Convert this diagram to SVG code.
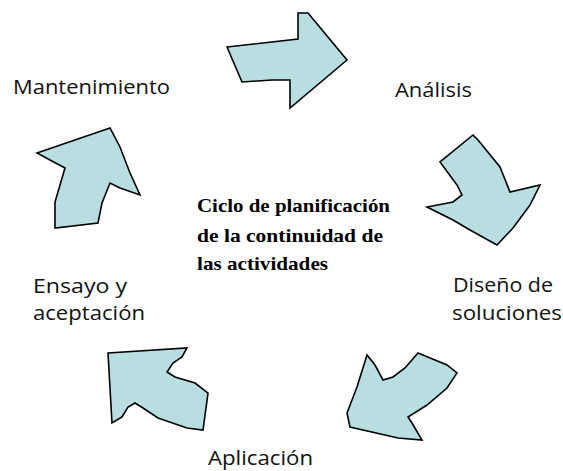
<svg xmlns="http://www.w3.org/2000/svg" width="563" height="471" viewBox="0 0 563 471">
<style>
.arrow{fill:#b9dee2;stroke:#000;stroke-width:1.6;stroke-linejoin:miter}
.lbl{font-family:"Open Sans","Liberation Sans",sans-serif;font-size:20px;fill:#111}
.ctr{font-family:"Liberation Serif","Times New Roman",serif;font-size:19px;font-weight:bold;fill:#000}
</style>
<rect width="563" height="471" fill="#fff"/>
<g id="connectors">
<polygon id="arrow-top" class="arrow" points="227,47 298,39 298,13 308,13 347,60 290,108 290,80 272,80 242,82"/>
<polygon id="arrow-right" class="arrow" points="473,135 440,162 457,185 462,195 453,202 427,207 453,220 470,230 497,245 513,228 530,205 540,185 510,192 500,167 478,140"/>
<polygon id="arrow-bottom-right" class="arrow" points="367,355 375,365 383,380 393,377 405,368 418,353 447,365 457,373 447,388 427,405 408,417 412,423 422,440 398,438 350,427 347,413 357,387"/>
<polygon id="arrow-bottom-left" class="arrow" points="108,353 187,348 182,357 173,363 167,372 175,377 195,383 208,393 203,430 187,428 158,418 143,408 135,403 128,407 122,417 112,423"/>
<polygon id="arrow-left" class="arrow" points="37,153 110,128 120,147 130,173 140,195 120,188 110,183 102,203 98,223 55,228 55,202 60,185 65,168 50,160"/>
</g>
<g id="center">
<text class="ctr" x="197" y="212" textLength="193" lengthAdjust="spacingAndGlyphs">Ciclo de planificación</text>
<text class="ctr" x="197" y="242" textLength="186" lengthAdjust="spacingAndGlyphs">de la continuidad de</text>
<text class="ctr" x="197" y="270" textLength="131" lengthAdjust="spacingAndGlyphs">las actividades</text>
</g>
<g id="mantenimiento"><text class="lbl" x="13" y="94" textLength="157" lengthAdjust="spacingAndGlyphs">Mantenimiento</text></g>
<g id="analisis"><text class="lbl" x="395" y="97" textLength="77" lengthAdjust="spacingAndGlyphs">Análisis</text></g>
<g id="diseno">
<text class="lbl" x="453" y="292" textLength="100" lengthAdjust="spacingAndGlyphs">Diseño de</text>
<text class="lbl" x="452" y="320" textLength="110" lengthAdjust="spacingAndGlyphs">soluciones</text>
</g>
<g id="ensayo">
<text class="lbl" x="33" y="293" textLength="94" lengthAdjust="spacingAndGlyphs">Ensayo y</text>
<text class="lbl" x="33" y="320" textLength="112" lengthAdjust="spacingAndGlyphs">aceptación</text>
</g>
<g id="aplicacion"><text class="lbl" x="208" y="465" font-size="19" textLength="105" lengthAdjust="spacingAndGlyphs">Aplicación</text></g>
</svg>
